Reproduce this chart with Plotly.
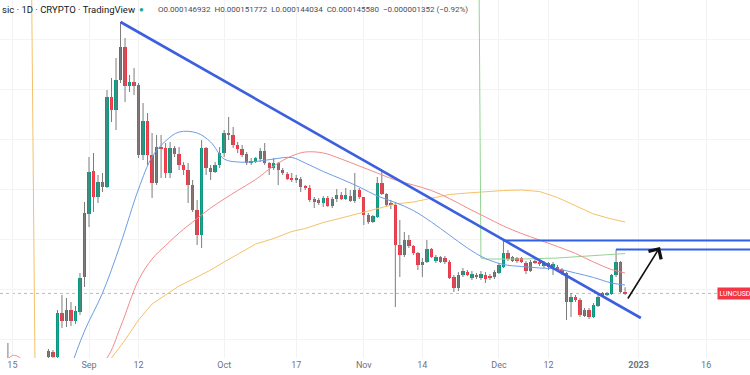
import plotly.graph_objects as go
import pandas as pd

# ---------------- data (prices in millionths of USD) ----------------
candle_dates = [pd.Timestamp("2022-08-14")] + list(pd.date_range("2022-08-23", periods=129, freq="D"))

opens = [70,
    82, 87, 82, 126, 118, 129, 118, 127, 162, 225,
    268, 242, 257, 252, 342, 329, 359, 392, 353, 357,
    354, 284, 318, 284, 256, 292, 291, 266, 291, 285,
    274, 269, 254, 229, 204, 291, 271, 267, 274, 286,
    306, 304, 294, 290, 285, 276, 277, 280, 288, 276,
    271, 276, 269, 265, 260, 259, 260, 252, 251, 240,
    239, 236, 241, 233, 240, 244, 240, 243, 238, 249,
    242, 224, 217, 222, 256, 245, 235, 234, 194, 184,
    199, 193, 186, 174, 177, 190, 178, 182, 181, 177,
    162, 151, 164, 167, 161, 164, 161, 164, 163, 162,
    166, 172, 186, 182, 181, 181, 176, 168, 178, 177,
    173, 176, 172, 172, 169, 166, 137, 142, 139, 123,
    129, 122, 133, 143, 144, 145, 164, 177, 146.932]

highs = [96,
    90, 89, 129, 144, 141, 137, 133, 166, 237, 282,
    286, 264, 266, 349, 361, 381, 417, 401, 364, 371,
    356, 336, 326, 306, 304, 304, 296, 297, 293, 292,
    277, 276, 259, 239, 299, 292, 274, 277, 292, 309,
    322, 312, 297, 294, 287, 281, 282, 291, 296, 277,
    281, 277, 271, 267, 266, 264, 262, 254, 254, 242,
    241, 243, 243, 242, 250, 247, 251, 249, 266, 251,
    242, 226, 224, 262, 268, 246, 239, 237, 219, 207,
    204, 194, 187, 181, 199, 191, 184, 183, 183, 179,
    164, 167, 171, 169, 168, 166, 168, 167, 165, 169,
    176, 198.5, 189, 183, 182, 182, 178, 179, 180, 179,
    178, 177, 177, 174, 171, 167, 146, 144, 141, 131,
    131, 136, 144, 147, 147, 165, 189.5, 178, 151.772]

lows = [60,
    79, 79, 80, 111, 112, 113, 115, 124, 152, 212,
    227, 236, 247, 251, 317, 309, 356, 337, 347, 344,
    281, 279, 274, 241, 254, 261, 261, 261, 282, 269,
    264, 236, 227, 194, 191, 264, 259, 266, 271, 282,
    299, 291, 286, 282, 274, 274, 276, 277, 274, 264,
    269, 254, 264, 259, 257, 256, 247, 249, 237, 231,
    234, 232, 232, 231, 237, 239, 239, 237, 236, 240,
    214, 215, 216, 221, 244, 232, 230, 132, 162, 182,
    191, 184, 169, 162, 176, 181, 176, 176, 175, 160,
    147, 148, 162, 163, 159, 160, 159, 156, 159, 160,
    165, 171, 178, 177, 176, 176, 165, 167, 175, 173,
    171, 169, 164, 168, 164, 119, 122, 137, 122, 122,
    120, 121, 132, 142, 143, 144, 162, 146, 144.034]

closes = [72,
    88, 82, 126, 118, 129, 118, 128, 161, 226, 267,
    242, 257, 252, 342, 329, 359, 392, 353, 357, 353,
    284, 318, 284, 256, 292, 290, 266, 291, 285, 274,
    269, 254, 229, 204, 291, 271, 267, 274, 286, 306,
    304, 294, 290, 284, 276, 278, 281, 288, 276, 271,
    276, 269, 266, 260, 259, 260, 252, 251, 239, 237,
    236, 241, 233, 240, 244, 240, 244, 238, 249, 242,
    224, 217, 223, 256, 245, 234, 234, 194, 184, 199,
    193, 186, 174, 177, 190, 182, 182, 177, 177, 161,
    151, 164, 168, 164, 165, 162, 165, 160, 161, 167,
    174, 186, 180, 178, 178, 177, 168, 177, 176, 175,
    176, 172, 175, 169, 166, 137, 142, 139, 124, 129,
    122, 134, 142, 146, 146, 164, 177, 147, 145.580]

# moving averages
ma_blue_dates = ["2022-08-26", "2022-08-28", "2022-08-31", "2022-09-04", "2022-09-08", "2022-09-12",
                 "2022-09-15", "2022-09-18", "2022-09-21", "2022-09-25", "2022-09-28", "2022-10-01",
                 "2022-10-04", "2022-10-08", "2022-10-12", "2022-10-16", "2022-10-19", "2022-10-23",
                 "2022-10-27", "2022-10-31", "2022-11-04", "2022-11-08", "2022-11-12", "2022-11-16",
                 "2022-11-20", "2022-11-24", "2022-11-28", "2022-12-02", "2022-12-06", "2022-12-10",
                 "2022-12-14", "2022-12-18", "2022-12-22", "2022-12-26", "2022-12-29"]
ma_blue = [44, 72, 108, 146, 195, 250, 282, 298, 307, 306, 297, 280,
           277, 277.5, 280, 281.5, 276, 267.5, 260, 252, 243, 236.5, 228.5, 217,
           204, 191, 180.5, 174.5, 172.5, 171, 170, 166, 161.5, 156, 154]

ma_red_dates = ["2022-08-13", "2022-08-14", "2022-08-15", "2022-08-16", "2022-08-17", "2022-08-18",
                "2022-08-24", "2022-09-01", "2022-09-05", "2022-09-08", "2022-09-12", "2022-09-15",
                "2022-09-18", "2022-09-21", "2022-09-25", "2022-09-28", "2022-10-01", "2022-10-04",
                "2022-10-08", "2022-10-12", "2022-10-16", "2022-10-19", "2022-10-23", "2022-10-27",
                "2022-10-31", "2022-11-04", "2022-11-08", "2022-11-12", "2022-11-16", "2022-11-20",
                "2022-11-24", "2022-11-28", "2022-12-02", "2022-12-06", "2022-12-10", "2022-12-14",
                "2022-12-18", "2022-12-22", "2022-12-26", "2022-12-29"]
ma_red = [75, 80, 83.5, 83, 80, 74,
          58, 64, 81, 112, 159, 180,
          193.5, 206, 220.5, 231, 240, 248.5,
          259.5, 273, 283, 287, 286, 280,
          273, 266, 259, 254, 248.5, 240.5,
          231, 222, 213, 205.5, 199, 192.5,
          185.5, 177, 169.5, 166]

ma_orange_dates = ["2022-08-18", "2022-08-19", "2022-08-20", "2022-08-26", "2022-09-01", "2022-09-04",
                   "2022-09-06", "2022-09-09", "2022-09-12", "2022-09-15", "2022-09-18", "2022-09-21",
                   "2022-09-25", "2022-09-28", "2022-10-01", "2022-10-04", "2022-10-08", "2022-10-12",
                   "2022-10-16", "2022-10-19", "2022-10-23", "2022-10-27", "2022-10-31", "2022-11-04",
                   "2022-11-08", "2022-11-12", "2022-11-16", "2022-11-20", "2022-11-24", "2022-11-28",
                   "2022-12-02", "2022-12-06", "2022-12-10", "2022-12-14", "2022-12-18", "2022-12-22",
                   "2022-12-26", "2022-12-29"]
ma_orange = [1400, 584, 78, 66, 66, 72,
             81, 99, 119, 135, 144, 153,
             162, 169, 177, 185, 195, 200.5,
             207.5, 210.5, 216.5, 221, 225.5, 230.5,
             235, 237, 241, 244.5, 246, 247.5,
             248.5, 249, 247.5, 241.5, 233, 225,
             220, 217]

ma_green_dates = ["2022-11-25", "2022-11-26", "2022-11-27", "2022-11-28", "2022-12-06", "2022-12-14",
                  "2022-12-20", "2022-12-25", "2022-12-29"]
ma_green = [1500, 793, 181, 180, 180, 181, 182.5, 184, 185.5]

# drawing anchors (trend line, levels, arrow)
trend_start = ("2022-09-08", 417)
trend_end = ("2023-01-01 12:00", 121)
level_upper = ("2022-12-02", 198.5)
level_lower = ("2022-12-27", 189.5)
arrow_tail = ("2022-12-29 10:00", 139)
arrow_tip = ("2023-01-05 18:00", 192)
last_close = 145.580

x_range = ["2022-08-12 05:51", "2023-01-25 17:30"]
y_range = [81, 439]

tick_dates = ["2022-08-15", "2022-09-01", "2022-09-12", "2022-10-01", "2022-10-17", "2022-11-01",
              "2022-11-14", "2022-12-01", "2022-12-12", "2023-01-01", "2023-01-16"]
tick_labels = ["15", "Sep", "12", "Oct", "17", "Nov", "14", "Dec", "12", "<b>2023</b>", "16"]

header_title = "sic · 1D · CRYPTO · TradingView"
header_ohlc = "O0.000146932  H0.000151772  L0.000144034  C0.000145580  −0.000001352 (−0.92%)"

# ---------------- styling ----------------
UP = "#089981"
DOWN = "#F23645"
WICK = "#7c7c7c"
FONT = "Roboto"

fig = go.Figure()

# wicks
wx, wy = [], []
for d, lo, hi in zip(candle_dates, lows, highs):
    wx += [d, d, None]
    wy += [lo, hi, None]
fig.add_trace(go.Scatter(x=wx, y=wy, mode="lines", line=dict(color=WICK, width=1),
                         hoverinfo="skip", showlegend=False))

# bodies
bases = [min(o, c) for o, c in zip(opens, closes)]
heights = [max(abs(c - o), 1.2) for o, c in zip(opens, closes)]
colors = [UP if c >= o else DOWN for o, c in zip(opens, closes)]
fig.add_trace(go.Bar(x=candle_dates, y=heights, base=bases, marker=dict(color=colors, line=dict(width=0)),
                     width=0.75 * 86400000, showlegend=False))

# moving averages
fig.add_trace(go.Scatter(x=ma_orange_dates, y=ma_orange, mode="lines",
                         line=dict(color="#f4c26a", width=1), showlegend=False))
fig.add_trace(go.Scatter(x=ma_green_dates, y=ma_green, mode="lines",
                         line=dict(color="#93d493", width=1), showlegend=False))
fig.add_trace(go.Scatter(x=ma_red_dates, y=ma_red, mode="lines", line_shape="spline",
                         line=dict(color="#f28b8b", width=1), showlegend=False))
fig.add_trace(go.Scatter(x=ma_blue_dates, y=ma_blue, mode="lines", line_shape="spline",
                         line=dict(color="#6d9de6", width=1), showlegend=False))

shapes = [
    dict(type="line", xref="x", yref="y", x0=x_range[0], x1=x_range[1], y0=last_close, y1=last_close,
         line=dict(color="rgba(170,170,170,0.8)", width=1, dash="dot"), layer="below"),
    dict(type="line", xref="x", yref="y", x0=trend_start[0], y0=trend_start[1], x1=trend_end[0], y1=trend_end[1],
         line=dict(color="#3b5fde", width=2.6)),
    dict(type="line", xref="x", yref="y", x0=level_upper[0], y0=level_upper[1], x1=x_range[1], y1=level_upper[1],
         line=dict(color="#3161e8", width=2)),
    dict(type="line", xref="x", yref="y", x0=level_lower[0], y0=level_lower[1], x1=x_range[1], y1=level_lower[1],
         line=dict(color="#3161e8", width=2)),
]

H_PLOT = 358.0
annotations = [
    dict(xref="paper", yref="paper", x=0, y=1 - 9 / H_PLOT, xanchor="left", yanchor="middle",
         text=header_title, showarrow=False, font=dict(family=FONT, size=9.5, color="#131722")),
    dict(xref="paper", yref="paper", x=141 / 750, y=1 - 9 / H_PLOT, xanchor="center", yanchor="middle",
         text="●", showarrow=False, font=dict(family=FONT, size=8, color="#22ab94")),
    dict(xref="paper", yref="paper", x=156 / 750, y=1 - 9 / H_PLOT, xanchor="left", yanchor="middle",
         text=header_ohlc, showarrow=False, font=dict(family=FONT, size=8, color="#4a4d57")),
    dict(xref="paper", yref="y", x=717 / 750, y=last_close, xanchor="left", yanchor="middle",
         text="LUNCUSD", showarrow=False, bgcolor=DOWN, borderpad=1.5,
         font=dict(family=FONT, size=7, color="white")),
    dict(xref="x", yref="y", axref="x", ayref="y", x=arrow_tip[0], y=arrow_tip[1],
         ax=arrow_tail[0], ay=arrow_tail[1], text="", showarrow=True, arrowhead=4,
         arrowsize=1.8, arrowwidth=1.6, arrowcolor="#111111", standoff=0),
]

fig.update_layout(
    width=750, height=375,
    margin=dict(l=0, r=0, t=0, b=17),
    paper_bgcolor="white", plot_bgcolor="white",
    barmode="overlay", bargap=0,
    shapes=shapes, annotations=annotations,
    showlegend=False,
    font=dict(family=FONT),
    xaxis=dict(type="date", range=x_range, tickvals=tick_dates, ticktext=tick_labels,
               tickfont=dict(family=FONT, size=9, color="#6f7380"), ticks="",
               showgrid=True, gridcolor="#f1f2f4", gridwidth=1, showline=False, zeroline=False,
               fixedrange=True),
    yaxis=dict(range=y_range, showticklabels=False, ticks="", showgrid=True, gridcolor="#f3f4f6",
               tick0=0, dtick=50, zeroline=False, showline=False, fixedrange=True),
)

fig.write_html("out.html", config={"displayModeBar": False},
               post_script="document.body.style.margin='0';document.body.style.overflow='hidden';")
